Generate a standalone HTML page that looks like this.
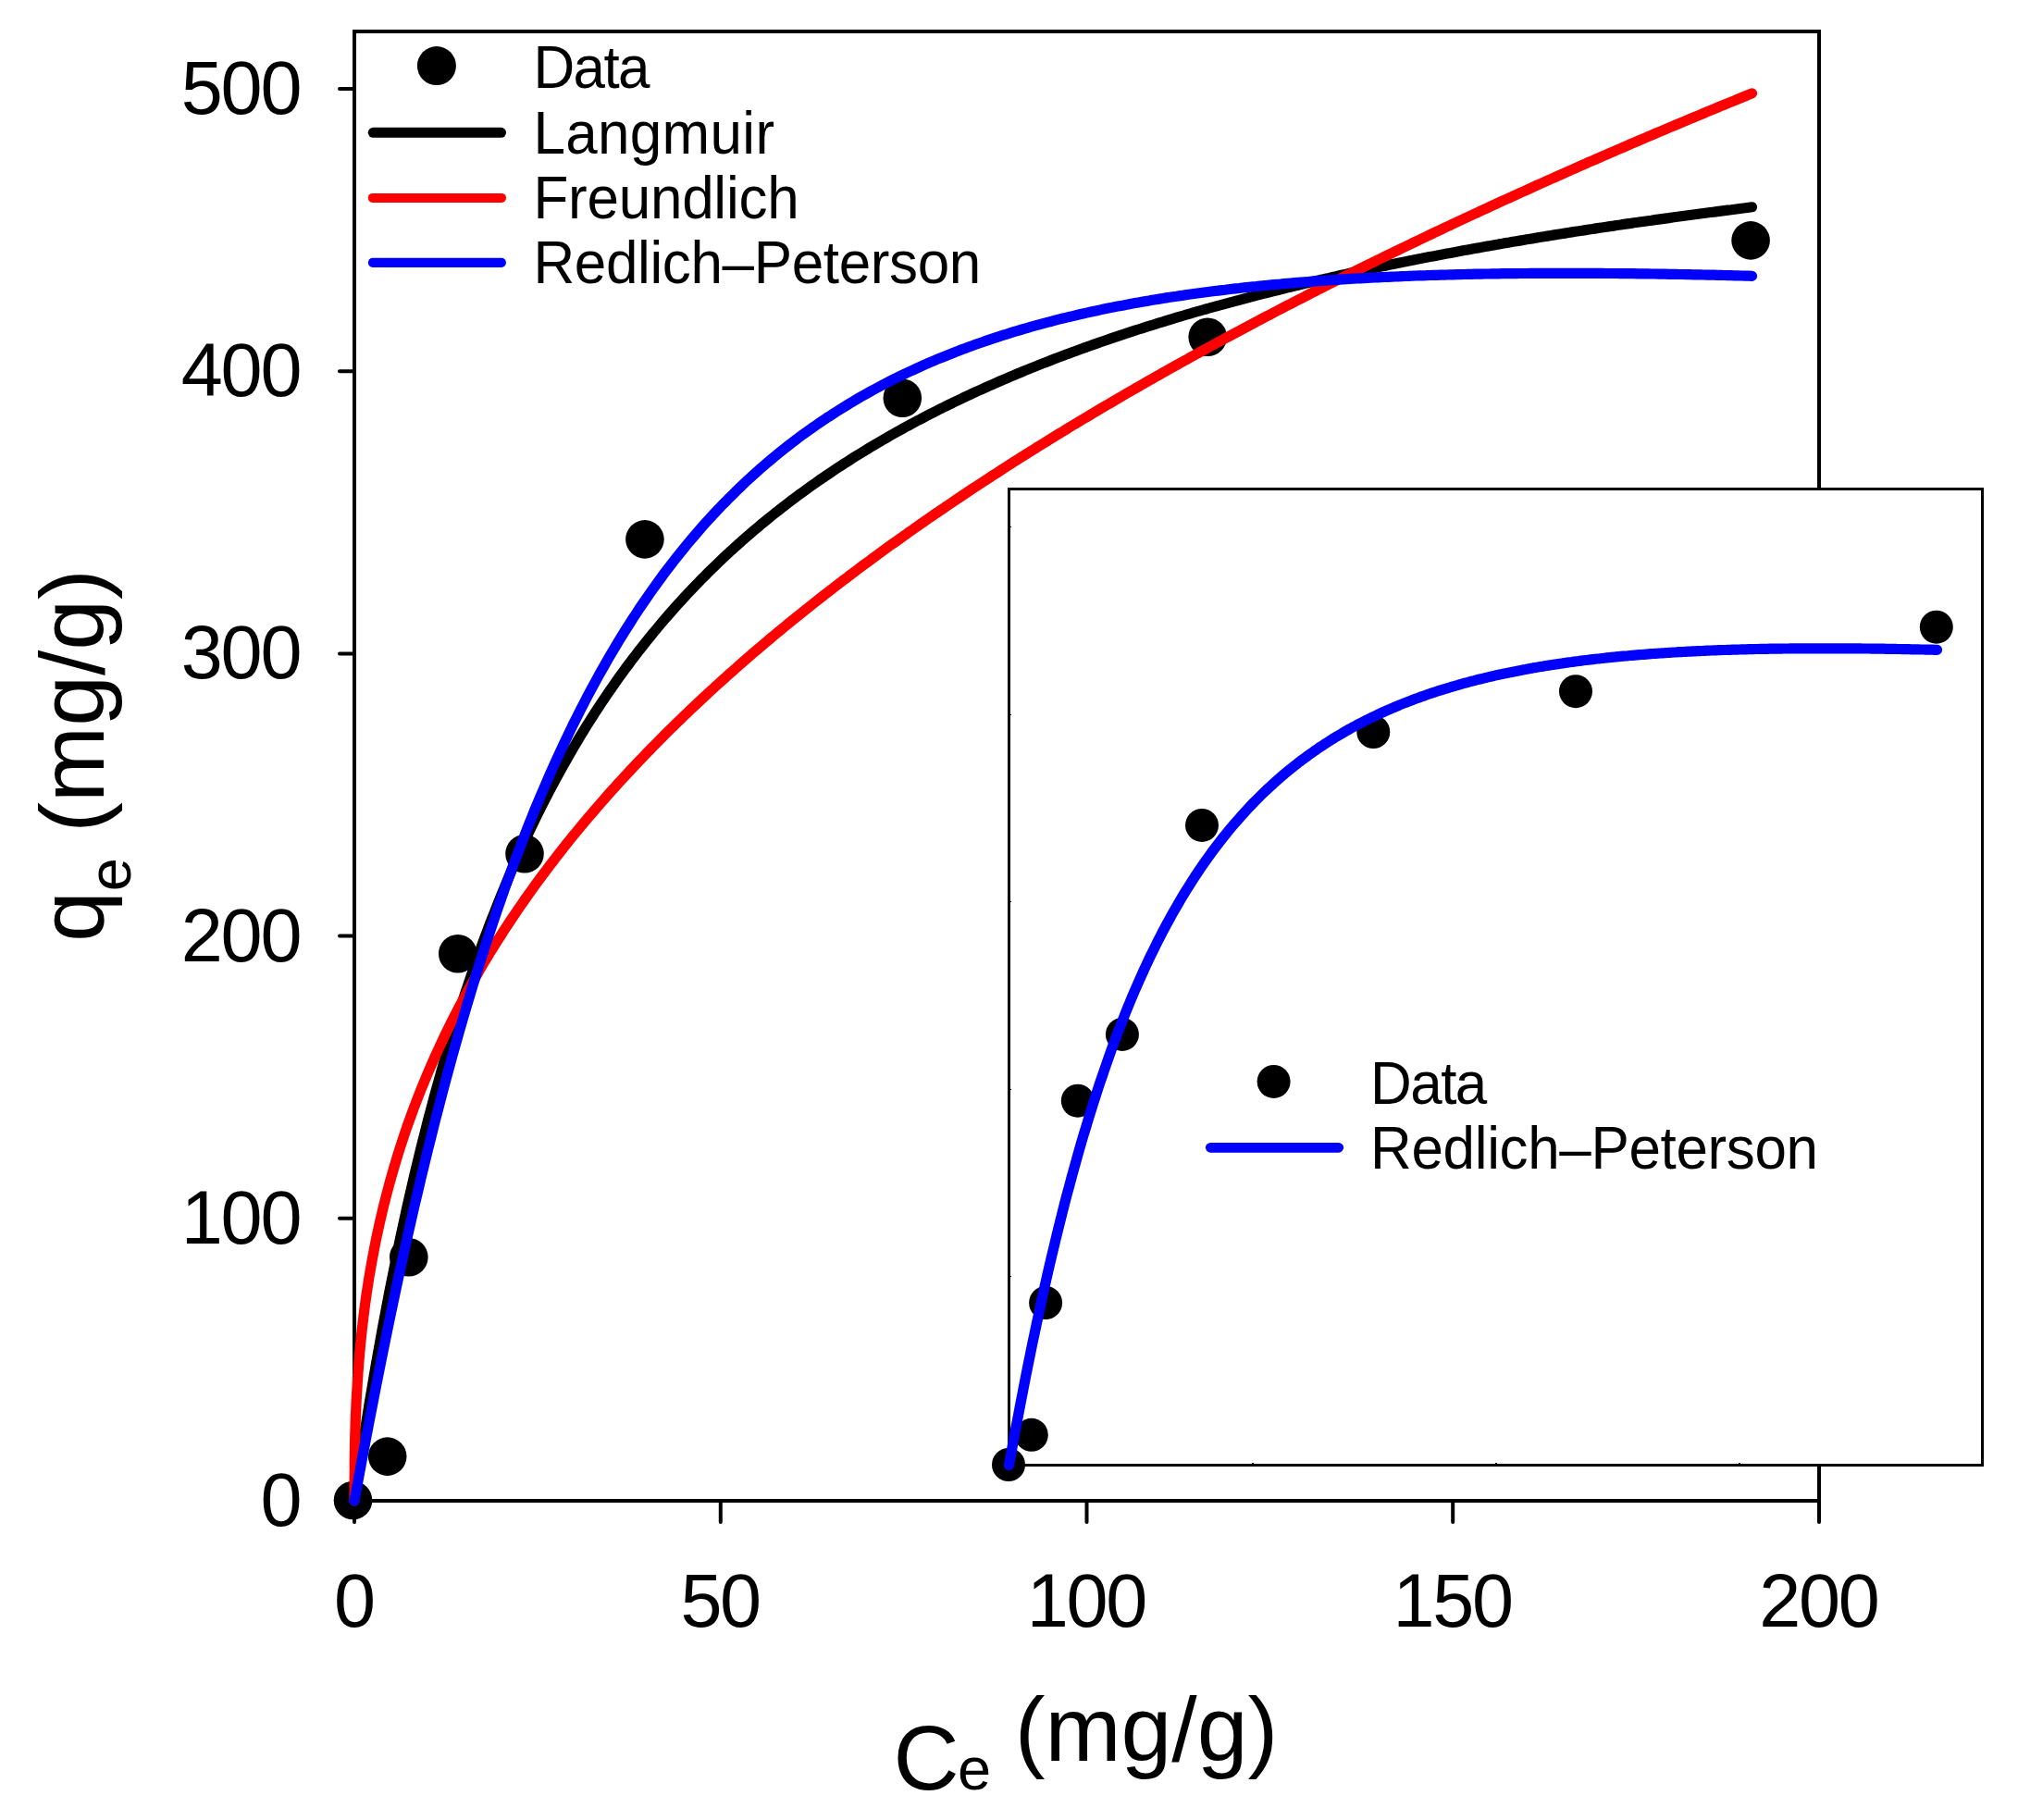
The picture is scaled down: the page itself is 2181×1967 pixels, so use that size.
<!DOCTYPE html>
<html><head><meta charset="utf-8"><title>Isotherm fit</title>
<style>
html,body{margin:0;padding:0;background:#fff;}
svg{display:block;}
text{font-family:"Liberation Sans", Arial, Helvetica, sans-serif;fill:#000;}
.tk{font-size:81px;}
.lg{font-size:62px;}
.ax{font-size:98.5px;}
.sub{font-size:65px;}
</style></head><body>
<svg width="2181" height="1967" viewBox="0 0 2181 1967">
<rect x="0" y="0" width="2181" height="1967" fill="#fff"/>

<g stroke="#000" stroke-width="4" fill="none" stroke-linecap="butt">
<path d="M383,1624 V34 H1966 V1640"/>
<path d="M381,1622 H1968"/>
<path stroke-linecap="round" d="M367,1622.0 H383"/>
<path stroke-linecap="round" d="M367,1316.8 H383"/>
<path stroke-linecap="round" d="M367,1011.6 H383"/>
<path stroke-linecap="round" d="M367,706.4 H383"/>
<path stroke-linecap="round" d="M367,401.2 H383"/>
<path stroke-linecap="round" d="M367,96.0 H383"/>
<path stroke-linecap="round" d="M383.0,1622 V1645"/>
<path stroke-linecap="round" d="M778.8,1622 V1645"/>
<path stroke-linecap="round" d="M1174.5,1622 V1645"/>
<path stroke-linecap="round" d="M1570.2,1622 V1645"/>
<path stroke-linecap="round" d="M1966.0,1622 V1645"/>
</g>
<g fill="#000">
<circle cx="381.5" cy="1621.5" r="20.8"/>
<circle cx="418.7" cy="1574.1" r="20.8"/>
<circle cx="441.8" cy="1358.8" r="20.8"/>
<circle cx="494.8" cy="1030.8" r="20.8"/>
<circle cx="567" cy="922.8" r="20.8"/>
<circle cx="696.9" cy="582.9" r="20.8"/>
<circle cx="975.3" cy="430.2" r="20.8"/>
<circle cx="1305.2" cy="364.3" r="20.8"/>
<circle cx="1892.1" cy="259.9" r="20.8"/>
</g>
<g fill="none" stroke-width="11.2" stroke-linecap="round" stroke-linejoin="round">
<path stroke="#000" d="M383.0,1622.0 L383.3,1620.1 L383.5,1618.3 L383.8,1616.4 L384.1,1614.6 L384.3,1612.7 L384.6,1610.9 L384.9,1609.1 L385.1,1607.2 L385.4,1605.4 L385.7,1603.6 L386.0,1601.8 L386.2,1600.0 L386.5,1598.2 L386.8,1596.4 L387.0,1594.6 L387.3,1592.8 L387.6,1591.0 L387.8,1589.2 L388.1,1587.4 L388.4,1585.6 L388.6,1583.8 L388.9,1582.1 L389.2,1580.3 L389.4,1578.5 L389.7,1576.8 L390.0,1575.0 L390.2,1573.3 L390.5,1571.5 L390.8,1569.8 L391.0,1568.0 L391.3,1566.3 L391.6,1564.6 L391.9,1562.8 L392.1,1561.1 L392.4,1559.4 L392.7,1557.7 L392.9,1556.0 L393.2,1554.2 L393.5,1552.5 L393.7,1550.8 L394.0,1549.1 L394.3,1547.4 L394.5,1545.8 L394.8,1544.1 L395.1,1542.4 L395.3,1540.7 L395.6,1539.0 L395.9,1537.3 L396.1,1535.7 L396.4,1534.0 L396.7,1532.4 L397.0,1530.7 L397.2,1529.0 L397.5,1527.4 L397.8,1525.7 L398.0,1524.1 L398.3,1522.5 L398.6,1520.8 L398.8,1519.2 L402.6,1496.7 L406.3,1475.0 L410.1,1453.8 L413.8,1433.3 L417.6,1413.3 L421.3,1393.8 L425.1,1375.0 L428.8,1356.6 L432.5,1338.7 L436.3,1321.2 L440.0,1304.3 L443.8,1287.7 L447.5,1271.6 L451.3,1255.9 L455.0,1240.5 L458.8,1225.6 L462.5,1211.0 L466.3,1196.7 L470.0,1182.8 L473.8,1169.2 L477.5,1155.9 L481.2,1142.9 L485.0,1130.2 L488.7,1117.8 L492.5,1105.6 L496.2,1093.7 L500.0,1082.1 L503.7,1070.7 L507.5,1059.6 L511.2,1048.7 L515.0,1038.0 L518.7,1027.5 L522.4,1017.2 L526.2,1007.2 L529.9,997.3 L533.7,987.7 L537.4,978.2 L541.2,968.9 L544.9,959.8 L548.7,950.8 L552.4,942.0 L556.2,933.4 L559.9,925.0 L563.7,916.7 L567.4,908.5 L571.1,900.5 L574.9,892.6 L578.6,884.9 L582.4,877.3 L586.1,869.8 L589.9,862.5 L593.6,855.3 L597.4,848.2 L601.1,841.2 L604.9,834.3 L608.6,827.6 L612.4,820.9 L616.1,814.4 L619.8,808.0 L623.6,801.6 L627.3,795.4 L631.1,789.3 L634.8,783.2 L638.6,777.3 L642.3,771.4 L646.1,765.7 L649.8,760.0 L653.6,754.4 L657.3,748.9 L661.1,743.5 L664.8,738.1 L668.5,732.8 L672.3,727.6 L676.0,722.5 L679.8,717.5 L683.5,712.5 L687.3,707.6 L691.0,702.7 L694.8,697.9 L698.5,693.2 L702.3,688.6 L706.0,684.0 L709.8,679.5 L713.5,675.0 L717.2,670.6 L721.0,666.3 L724.7,662.0 L728.5,657.7 L732.2,653.6 L736.0,649.4 L739.7,645.4 L743.5,641.3 L747.2,637.4 L751.0,633.4 L754.7,629.6 L758.4,625.7 L762.2,622.0 L765.9,618.2 L769.7,614.5 L773.4,610.9 L777.2,607.3 L780.9,603.7 L784.7,600.2 L788.4,596.7 L792.2,593.3 L795.9,589.9 L799.7,586.6 L803.4,583.2 L807.1,580.0 L810.9,576.7 L814.6,573.5 L818.4,570.4 L822.1,567.2 L825.9,564.1 L829.6,561.1 L833.4,558.0 L837.1,555.0 L840.9,552.1 L844.6,549.1 L848.4,546.2 L852.1,543.4 L855.8,540.5 L859.6,537.7 L863.3,534.9 L867.1,532.2 L870.8,529.5 L874.6,526.8 L878.3,524.1 L882.1,521.5 L885.8,518.8 L889.6,516.3 L893.3,513.7 L897.1,511.2 L900.8,508.7 L904.5,506.2 L908.3,503.7 L912.0,501.3 L915.8,498.9 L919.5,496.5 L923.3,494.1 L927.0,491.8 L930.8,489.5 L934.5,487.2 L938.3,484.9 L942.0,482.6 L945.8,480.4 L949.5,478.2 L953.2,476.0 L957.0,473.8 L960.7,471.7 L964.5,469.5 L968.2,467.4 L972.0,465.3 L975.7,463.3 L979.5,461.2 L983.2,459.2 L987.0,457.1 L990.7,455.1 L994.5,453.2 L998.2,451.2 L1001.9,449.3 L1005.7,447.3 L1009.4,445.4 L1013.2,443.5 L1016.9,441.6 L1020.7,439.8 L1024.4,437.9 L1028.2,436.1 L1031.9,434.3 L1035.7,432.5 L1039.4,430.7 L1043.1,428.9 L1046.9,427.2 L1050.6,425.4 L1054.4,423.7 L1058.1,422.0 L1061.9,420.3 L1065.6,418.6 L1069.4,416.9 L1073.1,415.3 L1076.9,413.6 L1080.6,412.0 L1084.4,410.4 L1088.1,408.8 L1091.8,407.2 L1095.6,405.6 L1099.3,404.0 L1103.1,402.5 L1106.8,400.9 L1110.6,399.4 L1114.3,397.9 L1118.1,396.4 L1121.8,394.9 L1125.6,393.4 L1129.3,391.9 L1133.1,390.5 L1136.8,389.0 L1140.5,387.6 L1144.3,386.1 L1148.0,384.7 L1151.8,383.3 L1155.5,381.9 L1159.3,380.5 L1163.0,379.2 L1166.8,377.8 L1170.5,376.4 L1174.3,375.1 L1178.0,373.7 L1181.8,372.4 L1185.5,371.1 L1189.2,369.8 L1193.0,368.5 L1196.7,367.2 L1200.5,365.9 L1204.2,364.7 L1208.0,363.4 L1211.7,362.1 L1215.5,360.9 L1219.2,359.7 L1223.0,358.4 L1226.7,357.2 L1230.5,356.0 L1234.2,354.8 L1237.9,353.6 L1241.7,352.4 L1245.4,351.3 L1249.2,350.1 L1252.9,348.9 L1256.7,347.8 L1260.4,346.6 L1264.2,345.5 L1267.9,344.4 L1271.7,343.2 L1275.4,342.1 L1279.1,341.0 L1282.9,339.9 L1286.6,338.8 L1290.4,337.7 L1294.1,336.7 L1297.9,335.6 L1301.6,334.5 L1305.4,333.5 L1309.1,332.4 L1312.9,331.4 L1316.6,330.3 L1320.4,329.3 L1324.1,328.3 L1327.8,327.3 L1331.6,326.3 L1335.3,325.3 L1339.1,324.3 L1342.8,323.3 L1346.6,322.3 L1350.3,321.3 L1354.1,320.3 L1357.8,319.4 L1361.6,318.4 L1365.3,317.4 L1369.1,316.5 L1372.8,315.6 L1376.5,314.6 L1380.3,313.7 L1384.0,312.8 L1387.8,311.8 L1391.5,310.9 L1395.3,310.0 L1399.0,309.1 L1402.8,308.2 L1406.5,307.3 L1410.3,306.4 L1414.0,305.5 L1417.8,304.7 L1421.5,303.8 L1425.2,302.9 L1429.0,302.1 L1432.7,301.2 L1436.5,300.4 L1440.2,299.5 L1444.0,298.7 L1447.7,297.8 L1451.5,297.0 L1455.2,296.2 L1459.0,295.3 L1462.7,294.5 L1466.5,293.7 L1470.2,292.9 L1473.9,292.1 L1477.7,291.3 L1481.4,290.5 L1485.2,289.7 L1488.9,288.9 L1492.7,288.1 L1496.4,287.4 L1500.2,286.6 L1503.9,285.8 L1507.7,285.0 L1511.4,284.3 L1515.1,283.5 L1518.9,282.8 L1522.6,282.0 L1526.4,281.3 L1530.1,280.5 L1533.9,279.8 L1537.6,279.1 L1541.4,278.3 L1545.1,277.6 L1548.9,276.9 L1552.6,276.2 L1556.4,275.5 L1560.1,274.8 L1563.8,274.1 L1567.6,273.4 L1571.3,272.7 L1575.1,272.0 L1578.8,271.3 L1582.6,270.6 L1586.3,269.9 L1590.1,269.2 L1593.8,268.5 L1597.6,267.9 L1601.3,267.2 L1605.1,266.5 L1608.8,265.9 L1612.5,265.2 L1616.3,264.6 L1620.0,263.9 L1623.8,263.3 L1627.5,262.6 L1631.3,262.0 L1635.0,261.3 L1638.8,260.7 L1642.5,260.1 L1646.3,259.4 L1650.0,258.8 L1653.8,258.2 L1657.5,257.6 L1661.2,256.9 L1665.0,256.3 L1668.7,255.7 L1672.5,255.1 L1676.2,254.5 L1680.0,253.9 L1683.7,253.3 L1687.5,252.7 L1691.2,252.1 L1695.0,251.5 L1698.7,250.9 L1702.5,250.3 L1706.2,249.8 L1709.9,249.2 L1713.7,248.6 L1717.4,248.0 L1721.2,247.5 L1724.9,246.9 L1728.7,246.3 L1732.4,245.8 L1736.2,245.2 L1739.9,244.6 L1743.7,244.1 L1747.4,243.5 L1751.2,243.0 L1754.9,242.4 L1758.6,241.9 L1762.4,241.4 L1766.1,240.8 L1769.9,240.3 L1773.6,239.7 L1777.4,239.2 L1781.1,238.7 L1784.9,238.2 L1788.6,237.6 L1792.4,237.1 L1796.1,236.6 L1799.8,236.1 L1803.6,235.6 L1807.3,235.0 L1811.1,234.5 L1814.8,234.0 L1818.6,233.5 L1822.3,233.0 L1826.1,232.5 L1829.8,232.0 L1833.6,231.5 L1837.3,231.0 L1841.1,230.5 L1844.8,230.0 L1848.5,229.5 L1852.3,229.1 L1856.0,228.6 L1859.8,228.1 L1863.5,227.6 L1867.3,227.1 L1871.0,226.7 L1874.8,226.2 L1878.5,225.7 L1882.3,225.2 L1886.0,224.8 L1889.8,224.3 L1893.5,223.8"/>
<path stroke="#f00" d="M383.0,1622.0 L383.3,1575.7 L383.5,1560.7 L383.8,1549.8 L384.1,1540.8 L384.3,1533.2 L384.6,1526.4 L384.9,1520.2 L385.1,1514.6 L385.4,1509.4 L385.7,1504.5 L386.0,1499.8 L386.2,1495.5 L386.5,1491.3 L386.8,1487.3 L387.0,1483.5 L387.3,1479.9 L387.6,1476.3 L387.8,1472.9 L388.1,1469.6 L388.4,1466.4 L388.6,1463.3 L388.9,1460.3 L389.2,1457.4 L389.4,1454.5 L389.7,1451.8 L390.0,1449.0 L390.2,1446.4 L390.5,1443.8 L390.8,1441.2 L391.0,1438.7 L391.3,1436.3 L391.6,1433.9 L391.9,1431.5 L392.1,1429.2 L392.4,1427.0 L392.7,1424.7 L392.9,1422.5 L393.2,1420.4 L393.5,1418.2 L393.7,1416.1 L394.0,1414.1 L394.3,1412.0 L394.5,1410.0 L394.8,1408.0 L395.1,1406.1 L395.3,1404.2 L395.6,1402.3 L395.9,1400.4 L396.1,1398.5 L396.4,1396.7 L396.7,1394.9 L397.0,1393.1 L397.2,1391.3 L397.5,1389.6 L397.8,1387.8 L398.0,1386.1 L398.3,1384.4 L398.6,1382.8 L398.8,1381.1 L402.6,1359.5 L406.3,1340.3 L410.1,1322.8 L413.8,1306.7 L417.6,1291.7 L421.3,1277.7 L425.1,1264.4 L428.8,1251.9 L432.5,1239.9 L436.3,1228.5 L440.0,1217.5 L443.8,1207.0 L447.5,1196.8 L451.3,1187.0 L455.0,1177.5 L458.8,1168.3 L462.5,1159.4 L466.3,1150.7 L470.0,1142.2 L473.8,1134.0 L477.5,1126.0 L481.2,1118.1 L485.0,1110.4 L488.7,1102.9 L492.5,1095.5 L496.2,1088.3 L500.0,1081.3 L503.7,1074.3 L507.5,1067.5 L511.2,1060.8 L515.0,1054.3 L518.7,1047.8 L522.4,1041.4 L526.2,1035.2 L529.9,1029.0 L533.7,1023.0 L537.4,1017.0 L541.2,1011.1 L544.9,1005.3 L548.7,999.6 L552.4,993.9 L556.2,988.3 L559.9,982.8 L563.7,977.4 L567.4,972.0 L571.1,966.7 L574.9,961.5 L578.6,956.3 L582.4,951.2 L586.1,946.1 L589.9,941.1 L593.6,936.1 L597.4,931.2 L601.1,926.4 L604.9,921.6 L608.6,916.8 L612.4,912.1 L616.1,907.4 L619.8,902.8 L623.6,898.2 L627.3,893.7 L631.1,889.2 L634.8,884.7 L638.6,880.3 L642.3,876.0 L646.1,871.6 L649.8,867.3 L653.6,863.0 L657.3,858.8 L661.1,854.6 L664.8,850.5 L668.5,846.3 L672.3,842.2 L676.0,838.2 L679.8,834.1 L683.5,830.1 L687.3,826.1 L691.0,822.2 L694.8,818.3 L698.5,814.4 L702.3,810.5 L706.0,806.7 L709.8,802.9 L713.5,799.1 L717.2,795.3 L721.0,791.6 L724.7,787.9 L728.5,784.2 L732.2,780.6 L736.0,776.9 L739.7,773.3 L743.5,769.7 L747.2,766.1 L751.0,762.6 L754.7,759.1 L758.4,755.6 L762.2,752.1 L765.9,748.6 L769.7,745.2 L773.4,741.7 L777.2,738.3 L780.9,735.0 L784.7,731.6 L788.4,728.2 L792.2,724.9 L795.9,721.6 L799.7,718.3 L803.4,715.0 L807.1,711.8 L810.9,708.5 L814.6,705.3 L818.4,702.1 L822.1,698.9 L825.9,695.7 L829.6,692.6 L833.4,689.4 L837.1,686.3 L840.9,683.2 L844.6,680.1 L848.4,677.0 L852.1,673.9 L855.8,670.9 L859.6,667.8 L863.3,664.8 L867.1,661.8 L870.8,658.8 L874.6,655.8 L878.3,652.9 L882.1,649.9 L885.8,647.0 L889.6,644.0 L893.3,641.1 L897.1,638.2 L900.8,635.3 L904.5,632.4 L908.3,629.6 L912.0,626.7 L915.8,623.9 L919.5,621.0 L923.3,618.2 L927.0,615.4 L930.8,612.6 L934.5,609.8 L938.3,607.1 L942.0,604.3 L945.8,601.5 L949.5,598.8 L953.2,596.1 L957.0,593.3 L960.7,590.6 L964.5,587.9 L968.2,585.3 L972.0,582.6 L975.7,579.9 L979.5,577.3 L983.2,574.6 L987.0,572.0 L990.7,569.3 L994.5,566.7 L998.2,564.1 L1001.9,561.5 L1005.7,558.9 L1009.4,556.3 L1013.2,553.8 L1016.9,551.2 L1020.7,548.7 L1024.4,546.1 L1028.2,543.6 L1031.9,541.0 L1035.7,538.5 L1039.4,536.0 L1043.1,533.5 L1046.9,531.0 L1050.6,528.5 L1054.4,526.1 L1058.1,523.6 L1061.9,521.1 L1065.6,518.7 L1069.4,516.2 L1073.1,513.8 L1076.9,511.4 L1080.6,509.0 L1084.4,506.5 L1088.1,504.1 L1091.8,501.7 L1095.6,499.3 L1099.3,497.0 L1103.1,494.6 L1106.8,492.2 L1110.6,489.9 L1114.3,487.5 L1118.1,485.2 L1121.8,482.8 L1125.6,480.5 L1129.3,478.2 L1133.1,475.9 L1136.8,473.5 L1140.5,471.2 L1144.3,468.9 L1148.0,466.7 L1151.8,464.4 L1155.5,462.1 L1159.3,459.8 L1163.0,457.6 L1166.8,455.3 L1170.5,453.0 L1174.3,450.8 L1178.0,448.6 L1181.8,446.3 L1185.5,444.1 L1189.2,441.9 L1193.0,439.7 L1196.7,437.5 L1200.5,435.3 L1204.2,433.1 L1208.0,430.9 L1211.7,428.7 L1215.5,426.5 L1219.2,424.3 L1223.0,422.2 L1226.7,420.0 L1230.5,417.9 L1234.2,415.7 L1237.9,413.6 L1241.7,411.4 L1245.4,409.3 L1249.2,407.2 L1252.9,405.1 L1256.7,402.9 L1260.4,400.8 L1264.2,398.7 L1267.9,396.6 L1271.7,394.5 L1275.4,392.4 L1279.1,390.4 L1282.9,388.3 L1286.6,386.2 L1290.4,384.1 L1294.1,382.1 L1297.9,380.0 L1301.6,378.0 L1305.4,375.9 L1309.1,373.9 L1312.9,371.8 L1316.6,369.8 L1320.4,367.8 L1324.1,365.7 L1327.8,363.7 L1331.6,361.7 L1335.3,359.7 L1339.1,357.7 L1342.8,355.7 L1346.6,353.7 L1350.3,351.7 L1354.1,349.7 L1357.8,347.7 L1361.6,345.8 L1365.3,343.8 L1369.1,341.8 L1372.8,339.9 L1376.5,337.9 L1380.3,335.9 L1384.0,334.0 L1387.8,332.0 L1391.5,330.1 L1395.3,328.2 L1399.0,326.2 L1402.8,324.3 L1406.5,322.4 L1410.3,320.5 L1414.0,318.5 L1417.8,316.6 L1421.5,314.7 L1425.2,312.8 L1429.0,310.9 L1432.7,309.0 L1436.5,307.1 L1440.2,305.2 L1444.0,303.3 L1447.7,301.5 L1451.5,299.6 L1455.2,297.7 L1459.0,295.9 L1462.7,294.0 L1466.5,292.1 L1470.2,290.3 L1473.9,288.4 L1477.7,286.6 L1481.4,284.7 L1485.2,282.9 L1488.9,281.0 L1492.7,279.2 L1496.4,277.4 L1500.2,275.5 L1503.9,273.7 L1507.7,271.9 L1511.4,270.1 L1515.1,268.3 L1518.9,266.5 L1522.6,264.7 L1526.4,262.9 L1530.1,261.1 L1533.9,259.3 L1537.6,257.5 L1541.4,255.7 L1545.1,253.9 L1548.9,252.1 L1552.6,250.3 L1556.4,248.6 L1560.1,246.8 L1563.8,245.0 L1567.6,243.3 L1571.3,241.5 L1575.1,239.7 L1578.8,238.0 L1582.6,236.2 L1586.3,234.5 L1590.1,232.7 L1593.8,231.0 L1597.6,229.3 L1601.3,227.5 L1605.1,225.8 L1608.8,224.1 L1612.5,222.3 L1616.3,220.6 L1620.0,218.9 L1623.8,217.2 L1627.5,215.5 L1631.3,213.8 L1635.0,212.1 L1638.8,210.4 L1642.5,208.7 L1646.3,207.0 L1650.0,205.3 L1653.8,203.6 L1657.5,201.9 L1661.2,200.2 L1665.0,198.5 L1668.7,196.8 L1672.5,195.2 L1676.2,193.5 L1680.0,191.8 L1683.7,190.1 L1687.5,188.5 L1691.2,186.8 L1695.0,185.2 L1698.7,183.5 L1702.5,181.8 L1706.2,180.2 L1709.9,178.5 L1713.7,176.9 L1717.4,175.2 L1721.2,173.6 L1724.9,172.0 L1728.7,170.3 L1732.4,168.7 L1736.2,167.1 L1739.9,165.4 L1743.7,163.8 L1747.4,162.2 L1751.2,160.6 L1754.9,159.0 L1758.6,157.4 L1762.4,155.7 L1766.1,154.1 L1769.9,152.5 L1773.6,150.9 L1777.4,149.3 L1781.1,147.7 L1784.9,146.1 L1788.6,144.5 L1792.4,142.9 L1796.1,141.4 L1799.8,139.8 L1803.6,138.2 L1807.3,136.6 L1811.1,135.0 L1814.8,133.5 L1818.6,131.9 L1822.3,130.3 L1826.1,128.7 L1829.8,127.2 L1833.6,125.6 L1837.3,124.1 L1841.1,122.5 L1844.8,120.9 L1848.5,119.4 L1852.3,117.8 L1856.0,116.3 L1859.8,114.7 L1863.5,113.2 L1867.3,111.6 L1871.0,110.1 L1874.8,108.6 L1878.5,107.0 L1882.3,105.5 L1886.0,104.0 L1889.8,102.4 L1893.5,100.9"/>
<path stroke="#00f" d="M383.0,1622.0 L383.3,1620.5 L383.5,1619.1 L383.8,1617.6 L384.1,1616.2 L384.3,1614.7 L384.6,1613.3 L384.9,1611.8 L385.1,1610.3 L385.4,1608.9 L385.7,1607.4 L386.0,1606.0 L386.2,1604.5 L386.5,1603.1 L386.8,1601.6 L387.0,1600.2 L387.3,1598.7 L387.6,1597.3 L387.8,1595.8 L388.1,1594.4 L388.4,1592.9 L388.6,1591.5 L388.9,1590.1 L389.2,1588.6 L389.4,1587.2 L389.7,1585.7 L390.0,1584.3 L390.2,1582.9 L390.5,1581.4 L390.8,1580.0 L391.0,1578.6 L391.3,1577.1 L391.6,1575.7 L391.9,1574.3 L392.1,1572.8 L392.4,1571.4 L392.7,1570.0 L392.9,1568.6 L393.2,1567.1 L393.5,1565.7 L393.7,1564.3 L394.0,1562.9 L394.3,1561.4 L394.5,1560.0 L394.8,1558.6 L395.1,1557.2 L395.3,1555.8 L395.6,1554.4 L395.9,1553.0 L396.1,1551.5 L396.4,1550.1 L396.7,1548.7 L397.0,1547.3 L397.2,1545.9 L397.5,1544.5 L397.8,1543.1 L398.0,1541.7 L398.3,1540.3 L398.6,1538.9 L398.8,1537.5 L402.6,1518.1 L406.3,1498.9 L410.1,1480.0 L413.8,1461.3 L417.6,1442.9 L421.3,1424.8 L425.1,1406.9 L428.8,1389.3 L432.5,1372.0 L436.3,1354.9 L440.0,1338.0 L443.8,1321.5 L447.5,1305.1 L451.3,1289.1 L455.0,1273.3 L458.8,1257.7 L462.5,1242.4 L466.3,1227.3 L470.0,1212.5 L473.8,1197.9 L477.5,1183.6 L481.2,1169.5 L485.0,1155.6 L488.7,1141.9 L492.5,1128.5 L496.2,1115.3 L500.0,1102.3 L503.7,1089.5 L507.5,1076.9 L511.2,1064.5 L515.0,1052.4 L518.7,1040.4 L522.4,1028.7 L526.2,1017.1 L529.9,1005.7 L533.7,994.5 L537.4,983.5 L541.2,972.7 L544.9,962.0 L548.7,951.6 L552.4,941.3 L556.2,931.1 L559.9,921.2 L563.7,911.4 L567.4,901.7 L571.1,892.2 L574.9,882.9 L578.6,873.7 L582.4,864.7 L586.1,855.9 L589.9,847.1 L593.6,838.5 L597.4,830.1 L601.1,821.8 L604.9,813.6 L608.6,805.6 L612.4,797.6 L616.1,789.9 L619.8,782.2 L623.6,774.7 L627.3,767.3 L631.1,760.0 L634.8,752.8 L638.6,745.7 L642.3,738.8 L646.1,731.9 L649.8,725.2 L653.6,718.6 L657.3,712.1 L661.1,705.6 L664.8,699.3 L668.5,693.1 L672.3,687.0 L676.0,681.0 L679.8,675.1 L683.5,669.2 L687.3,663.5 L691.0,657.8 L694.8,652.3 L698.5,646.8 L702.3,641.4 L706.0,636.1 L709.8,630.9 L713.5,625.7 L717.2,620.7 L721.0,615.7 L724.7,610.8 L728.5,605.9 L732.2,601.2 L736.0,596.5 L739.7,591.9 L743.5,587.3 L747.2,582.9 L751.0,578.5 L754.7,574.1 L758.4,569.8 L762.2,565.6 L765.9,561.5 L769.7,557.4 L773.4,553.4 L777.2,549.4 L780.9,545.5 L784.7,541.7 L788.4,537.9 L792.2,534.2 L795.9,530.5 L799.7,526.9 L803.4,523.3 L807.1,519.8 L810.9,516.3 L814.6,512.9 L818.4,509.6 L822.1,506.2 L825.9,503.0 L829.6,499.8 L833.4,496.6 L837.1,493.5 L840.9,490.4 L844.6,487.4 L848.4,484.4 L852.1,481.5 L855.8,478.6 L859.6,475.7 L863.3,472.9 L867.1,470.1 L870.8,467.4 L874.6,464.7 L878.3,462.1 L882.1,459.5 L885.8,456.9 L889.6,454.3 L893.3,451.8 L897.1,449.4 L900.8,447.0 L904.5,444.6 L908.3,442.2 L912.0,439.9 L915.8,437.6 L919.5,435.3 L923.3,433.1 L927.0,430.9 L930.8,428.7 L934.5,426.6 L938.3,424.5 L942.0,422.4 L945.8,420.4 L949.5,418.4 L953.2,416.4 L957.0,414.4 L960.7,412.5 L964.5,410.6 L968.2,408.7 L972.0,406.9 L975.7,405.1 L979.5,403.3 L983.2,401.5 L987.0,399.8 L990.7,398.1 L994.5,396.4 L998.2,394.7 L1001.9,393.0 L1005.7,391.4 L1009.4,389.8 L1013.2,388.2 L1016.9,386.7 L1020.7,385.2 L1024.4,383.7 L1028.2,382.2 L1031.9,380.7 L1035.7,379.3 L1039.4,377.8 L1043.1,376.4 L1046.9,375.0 L1050.6,373.7 L1054.4,372.3 L1058.1,371.0 L1061.9,369.7 L1065.6,368.4 L1069.4,367.1 L1073.1,365.9 L1076.9,364.6 L1080.6,363.4 L1084.4,362.2 L1088.1,361.1 L1091.8,359.9 L1095.6,358.7 L1099.3,357.6 L1103.1,356.5 L1106.8,355.4 L1110.6,354.3 L1114.3,353.2 L1118.1,352.2 L1121.8,351.2 L1125.6,350.1 L1129.3,349.1 L1133.1,348.1 L1136.8,347.2 L1140.5,346.2 L1144.3,345.2 L1148.0,344.3 L1151.8,343.4 L1155.5,342.5 L1159.3,341.6 L1163.0,340.7 L1166.8,339.8 L1170.5,339.0 L1174.3,338.1 L1178.0,337.3 L1181.8,336.5 L1185.5,335.7 L1189.2,334.9 L1193.0,334.1 L1196.7,333.3 L1200.5,332.6 L1204.2,331.8 L1208.0,331.1 L1211.7,330.4 L1215.5,329.7 L1219.2,329.0 L1223.0,328.3 L1226.7,327.6 L1230.5,326.9 L1234.2,326.2 L1237.9,325.6 L1241.7,325.0 L1245.4,324.3 L1249.2,323.7 L1252.9,323.1 L1256.7,322.5 L1260.4,321.9 L1264.2,321.3 L1267.9,320.7 L1271.7,320.2 L1275.4,319.6 L1279.1,319.1 L1282.9,318.5 L1286.6,318.0 L1290.4,317.5 L1294.1,317.0 L1297.9,316.5 L1301.6,316.0 L1305.4,315.5 L1309.1,315.0 L1312.9,314.5 L1316.6,314.1 L1320.4,313.6 L1324.1,313.2 L1327.8,312.7 L1331.6,312.3 L1335.3,311.9 L1339.1,311.5 L1342.8,311.0 L1346.6,310.6 L1350.3,310.2 L1354.1,309.8 L1357.8,309.5 L1361.6,309.1 L1365.3,308.7 L1369.1,308.4 L1372.8,308.0 L1376.5,307.6 L1380.3,307.3 L1384.0,307.0 L1387.8,306.6 L1391.5,306.3 L1395.3,306.0 L1399.0,305.7 L1402.8,305.4 L1406.5,305.1 L1410.3,304.8 L1414.0,304.5 L1417.8,304.2 L1421.5,303.9 L1425.2,303.7 L1429.0,303.4 L1432.7,303.1 L1436.5,302.9 L1440.2,302.6 L1444.0,302.4 L1447.7,302.1 L1451.5,301.9 L1455.2,301.7 L1459.0,301.4 L1462.7,301.2 L1466.5,301.0 L1470.2,300.8 L1473.9,300.6 L1477.7,300.4 L1481.4,300.2 L1485.2,300.0 L1488.9,299.8 L1492.7,299.6 L1496.4,299.5 L1500.2,299.3 L1503.9,299.1 L1507.7,299.0 L1511.4,298.8 L1515.1,298.6 L1518.9,298.5 L1522.6,298.3 L1526.4,298.2 L1530.1,298.0 L1533.9,297.9 L1537.6,297.8 L1541.4,297.7 L1545.1,297.5 L1548.9,297.4 L1552.6,297.3 L1556.4,297.2 L1560.1,297.1 L1563.8,297.0 L1567.6,296.9 L1571.3,296.8 L1575.1,296.7 L1578.8,296.6 L1582.6,296.5 L1586.3,296.4 L1590.1,296.3 L1593.8,296.2 L1597.6,296.2 L1601.3,296.1 L1605.1,296.0 L1608.8,296.0 L1612.5,295.9 L1616.3,295.9 L1620.0,295.8 L1623.8,295.7 L1627.5,295.7 L1631.3,295.6 L1635.0,295.6 L1638.8,295.6 L1642.5,295.5 L1646.3,295.5 L1650.0,295.5 L1653.8,295.4 L1657.5,295.4 L1661.2,295.4 L1665.0,295.4 L1668.7,295.3 L1672.5,295.3 L1676.2,295.3 L1680.0,295.3 L1683.7,295.3 L1687.5,295.3 L1691.2,295.3 L1695.0,295.3 L1698.7,295.3 L1702.5,295.3 L1706.2,295.3 L1709.9,295.3 L1713.7,295.3 L1717.4,295.3 L1721.2,295.4 L1724.9,295.4 L1728.7,295.4 L1732.4,295.4 L1736.2,295.5 L1739.9,295.5 L1743.7,295.5 L1747.4,295.5 L1751.2,295.6 L1754.9,295.6 L1758.6,295.7 L1762.4,295.7 L1766.1,295.7 L1769.9,295.8 L1773.6,295.8 L1777.4,295.9 L1781.1,295.9 L1784.9,296.0 L1788.6,296.0 L1792.4,296.1 L1796.1,296.2 L1799.8,296.2 L1803.6,296.3 L1807.3,296.3 L1811.1,296.4 L1814.8,296.5 L1818.6,296.5 L1822.3,296.6 L1826.1,296.7 L1829.8,296.8 L1833.6,296.8 L1837.3,296.9 L1841.1,297.0 L1844.8,297.1 L1848.5,297.2 L1852.3,297.2 L1856.0,297.3 L1859.8,297.4 L1863.5,297.5 L1867.3,297.6 L1871.0,297.7 L1874.8,297.8 L1878.5,297.9 L1882.3,298.0 L1886.0,298.1 L1889.8,298.2 L1893.5,298.3"/>
</g>
<circle cx="471.9" cy="71.1" r="21" fill="#000"/>
<g fill="none" stroke-linecap="round">
<path stroke="#000" stroke-width="10.9" d="M403.2,143.3 H541.6"/>
<path stroke="#f00" stroke-width="10" d="M402.8,213.9 H542"/>
<path stroke="#00f" stroke-width="10.2" d="M402.9,283.8 H541.9"/>
</g>
<text class="lg" transform="translate(576.4,95) scale(1,1.055)" textLength="126.2" lengthAdjust="spacing">Data</text>
<text class="lg" transform="translate(576.4,166) scale(1,1.055)" textLength="260.7" lengthAdjust="spacing">Langmuir</text>
<text class="lg" transform="translate(576.4,236) scale(1,1.055)" textLength="287.3" lengthAdjust="spacing">Freundlich</text>
<text class="lg" transform="translate(576.4,306) scale(1,1.055)" textLength="483.9" lengthAdjust="spacing">Redlich–Peterson</text>
<text class="tk" x="326.5" y="1649.0" text-anchor="end">0</text>
<text class="tk" x="326.5" y="1343.8" text-anchor="end" textLength="130.7" lengthAdjust="spacing">100</text>
<text class="tk" x="326.5" y="1038.6" text-anchor="end" textLength="130.7" lengthAdjust="spacing">200</text>
<text class="tk" x="326.5" y="733.4" text-anchor="end" textLength="130.7" lengthAdjust="spacing">300</text>
<text class="tk" x="326.5" y="428.2" text-anchor="end" textLength="130.7" lengthAdjust="spacing">400</text>
<text class="tk" x="326.5" y="123.0" text-anchor="end" textLength="130.7" lengthAdjust="spacing">500</text>
<text class="tk" x="383.5" y="1757.5" text-anchor="middle">0</text>
<text class="tk" x="779.2" y="1757.5" text-anchor="middle" textLength="87.6" lengthAdjust="spacing">50</text>
<text class="tk" x="1175.0" y="1757.5" text-anchor="middle" textLength="130.7" lengthAdjust="spacing">100</text>
<text class="tk" x="1570.8" y="1757.5" text-anchor="middle" textLength="130.7" lengthAdjust="spacing">150</text>
<text class="tk" x="1966.5" y="1757.5" text-anchor="middle" textLength="130.7" lengthAdjust="spacing">200</text>
<text class="ax" x="965.4" y="1934">C</text>
<text class="sub" x="1035" y="1934">e</text>
<text class="ax" x="1096.7" y="1903">(mg/g)</text>
<text transform="translate(111.5,1018) rotate(-90)"><tspan class="ax">q</tspan><tspan class="sub" dy="29">e</tspan><tspan class="ax" dy="-29"> (mg/g)</tspan></text>
<rect x="1090.5" y="528.5" width="1052" height="1055" fill="#fff" stroke="#000" stroke-width="3"/>
<g fill="#000" shape-rendering="crispEdges">
<rect x="1092" y="569" width="1" height="1"/>
<rect x="1092" y="772" width="1" height="1"/>
<rect x="1092" y="974" width="1" height="1"/>
<rect x="1092" y="1177" width="1" height="1"/>
<rect x="1092" y="1379" width="1" height="1"/>
<rect x="1353" y="1581" width="2" height="1"/>
<rect x="1616" y="1581" width="2" height="1"/>
<rect x="1879" y="1581" width="2" height="1"/>
</g>
<g fill="#000">
<circle cx="1090" cy="1583" r="18"/>
<circle cx="1114.8" cy="1550.8" r="18"/>
<circle cx="1130.1" cy="1408" r="18"/>
<circle cx="1164.8" cy="1189.7" r="18"/>
<circle cx="1212.9" cy="1117.9" r="18"/>
<circle cx="1299" cy="891.9" r="18"/>
<circle cx="1484.3" cy="791" r="18"/>
<circle cx="1703" cy="747.2" r="18"/>
<circle cx="2092.8" cy="677.7" r="18"/>
</g>
<path fill="none" stroke="#00f" stroke-width="11.2" stroke-linecap="round" stroke-linejoin="round" d="M1090.5,1583.5 L1093.0,1569.7 L1095.5,1556.1 L1098.0,1542.6 L1100.6,1529.3 L1103.1,1516.1 L1105.6,1503.2 L1108.1,1490.3 L1110.6,1477.7 L1113.1,1465.3 L1115.6,1453.0 L1118.2,1440.9 L1120.7,1429.0 L1123.2,1417.3 L1125.7,1405.7 L1128.2,1394.4 L1130.7,1383.2 L1133.2,1372.2 L1135.7,1361.4 L1138.3,1350.7 L1140.8,1340.2 L1143.3,1329.9 L1145.8,1319.8 L1148.3,1309.8 L1150.8,1300.0 L1153.3,1290.4 L1155.9,1280.9 L1158.4,1271.5 L1160.9,1262.4 L1163.4,1253.4 L1165.9,1244.5 L1168.4,1235.8 L1170.9,1227.2 L1173.5,1218.8 L1176.0,1210.5 L1178.5,1202.3 L1181.0,1194.3 L1183.5,1186.5 L1186.0,1178.7 L1188.5,1171.1 L1191.1,1163.6 L1193.6,1156.3 L1196.1,1149.0 L1198.6,1141.9 L1201.1,1134.9 L1203.6,1128.0 L1206.1,1121.3 L1208.6,1114.6 L1211.2,1108.1 L1213.7,1101.7 L1216.2,1095.3 L1218.7,1089.1 L1221.2,1083.0 L1223.7,1077.0 L1226.2,1071.1 L1228.8,1065.3 L1231.3,1059.6 L1233.8,1053.9 L1236.3,1048.4 L1238.8,1043.0 L1241.3,1037.6 L1243.8,1032.4 L1246.4,1027.2 L1248.9,1022.1 L1251.4,1017.1 L1253.9,1012.2 L1256.4,1007.3 L1258.9,1002.6 L1261.4,997.9 L1264.0,993.3 L1266.5,988.7 L1269.0,984.3 L1271.5,979.9 L1274.0,975.6 L1276.5,971.3 L1279.0,967.1 L1281.5,963.0 L1284.1,959.0 L1286.6,955.0 L1289.1,951.0 L1291.6,947.2 L1294.1,943.4 L1296.6,939.6 L1299.1,936.0 L1301.7,932.3 L1304.2,928.8 L1306.7,925.3 L1309.2,921.8 L1311.7,918.4 L1314.2,915.1 L1316.7,911.8 L1319.3,908.5 L1321.8,905.3 L1324.3,902.2 L1326.8,899.1 L1329.3,896.0 L1331.8,893.0 L1334.3,890.1 L1336.9,887.2 L1339.4,884.3 L1341.9,881.5 L1344.4,878.7 L1346.9,876.0 L1349.4,873.3 L1351.9,870.6 L1354.4,868.0 L1357.0,865.4 L1359.5,862.9 L1362.0,860.4 L1364.5,857.9 L1367.0,855.5 L1369.5,853.1 L1372.0,850.8 L1374.6,848.5 L1377.1,846.2 L1379.6,843.9 L1382.1,841.7 L1384.6,839.5 L1387.1,837.4 L1389.6,835.3 L1392.2,833.2 L1394.7,831.1 L1397.2,829.1 L1399.7,827.1 L1402.2,825.2 L1404.7,823.2 L1407.2,821.3 L1409.8,819.4 L1412.3,817.6 L1414.8,815.8 L1417.3,814.0 L1419.8,812.2 L1422.3,810.5 L1424.8,808.7 L1427.3,807.0 L1429.9,805.4 L1432.4,803.7 L1434.9,802.1 L1437.4,800.5 L1439.9,798.9 L1442.4,797.4 L1444.9,795.8 L1447.5,794.3 L1450.0,792.9 L1452.5,791.4 L1455.0,789.9 L1457.5,788.5 L1460.0,787.1 L1462.5,785.7 L1465.1,784.4 L1467.6,783.0 L1470.1,781.7 L1472.6,780.4 L1475.1,779.1 L1477.6,777.9 L1480.1,776.6 L1482.7,775.4 L1485.2,774.2 L1487.7,773.0 L1490.2,771.8 L1492.7,770.6 L1495.2,769.5 L1497.7,768.4 L1500.2,767.2 L1502.8,766.2 L1505.3,765.1 L1507.8,764.0 L1510.3,763.0 L1512.8,761.9 L1515.3,760.9 L1517.8,759.9 L1520.4,758.9 L1522.9,757.9 L1525.4,757.0 L1527.9,756.0 L1530.4,755.1 L1532.9,754.2 L1535.4,753.2 L1538.0,752.4 L1540.5,751.5 L1543.0,750.6 L1545.5,749.7 L1548.0,748.9 L1550.5,748.1 L1553.0,747.2 L1555.6,746.4 L1558.1,745.6 L1560.6,744.8 L1563.1,744.1 L1565.6,743.3 L1568.1,742.5 L1570.6,741.8 L1573.1,741.1 L1575.7,740.4 L1578.2,739.6 L1580.7,738.9 L1583.2,738.2 L1585.7,737.6 L1588.2,736.9 L1590.7,736.2 L1593.3,735.6 L1595.8,734.9 L1598.3,734.3 L1600.8,733.7 L1603.3,733.1 L1605.8,732.5 L1608.3,731.9 L1610.9,731.3 L1613.4,730.7 L1615.9,730.1 L1618.4,729.6 L1620.9,729.0 L1623.4,728.5 L1625.9,727.9 L1628.4,727.4 L1631.0,726.9 L1633.5,726.4 L1636.0,725.9 L1638.5,725.4 L1641.0,724.9 L1643.5,724.4 L1646.0,723.9 L1648.6,723.5 L1651.1,723.0 L1653.6,722.5 L1656.1,722.1 L1658.6,721.6 L1661.1,721.2 L1663.6,720.8 L1666.2,720.4 L1668.7,719.9 L1671.2,719.5 L1673.7,719.1 L1676.2,718.7 L1678.7,718.4 L1681.2,718.0 L1683.8,717.6 L1686.3,717.2 L1688.8,716.9 L1691.3,716.5 L1693.8,716.1 L1696.3,715.8 L1698.8,715.5 L1701.3,715.1 L1703.9,714.8 L1706.4,714.5 L1708.9,714.1 L1711.4,713.8 L1713.9,713.5 L1716.4,713.2 L1718.9,712.9 L1721.5,712.6 L1724.0,712.3 L1726.5,712.0 L1729.0,711.8 L1731.5,711.5 L1734.0,711.2 L1736.5,710.9 L1739.1,710.7 L1741.6,710.4 L1744.1,710.2 L1746.6,709.9 L1749.1,709.7 L1751.6,709.4 L1754.1,709.2 L1756.7,709.0 L1759.2,708.8 L1761.7,708.5 L1764.2,708.3 L1766.7,708.1 L1769.2,707.9 L1771.7,707.7 L1774.2,707.5 L1776.8,707.3 L1779.3,707.1 L1781.8,706.9 L1784.3,706.7 L1786.8,706.5 L1789.3,706.3 L1791.8,706.2 L1794.4,706.0 L1796.9,705.8 L1799.4,705.7 L1801.9,705.5 L1804.4,705.3 L1806.9,705.2 L1809.4,705.0 L1812.0,704.9 L1814.5,704.7 L1817.0,704.6 L1819.5,704.5 L1822.0,704.3 L1824.5,704.2 L1827.0,704.1 L1829.6,703.9 L1832.1,703.8 L1834.6,703.7 L1837.1,703.6 L1839.6,703.5 L1842.1,703.3 L1844.6,703.2 L1847.1,703.1 L1849.7,703.0 L1852.2,702.9 L1854.7,702.8 L1857.2,702.7 L1859.7,702.6 L1862.2,702.5 L1864.7,702.5 L1867.3,702.4 L1869.8,702.3 L1872.3,702.2 L1874.8,702.1 L1877.3,702.1 L1879.8,702.0 L1882.3,701.9 L1884.9,701.8 L1887.4,701.8 L1889.9,701.7 L1892.4,701.7 L1894.9,701.6 L1897.4,701.5 L1899.9,701.5 L1902.5,701.4 L1905.0,701.4 L1907.5,701.3 L1910.0,701.3 L1912.5,701.2 L1915.0,701.2 L1917.5,701.2 L1920.0,701.1 L1922.6,701.1 L1925.1,701.1 L1927.6,701.0 L1930.1,701.0 L1932.6,701.0 L1935.1,700.9 L1937.6,700.9 L1940.2,700.9 L1942.7,700.9 L1945.2,700.9 L1947.7,700.8 L1950.2,700.8 L1952.7,700.8 L1955.2,700.8 L1957.8,700.8 L1960.3,700.8 L1962.8,700.8 L1965.3,700.8 L1967.8,700.8 L1970.3,700.8 L1972.8,700.8 L1975.4,700.8 L1977.9,700.8 L1980.4,700.8 L1982.9,700.8 L1985.4,700.8 L1987.9,700.8 L1990.4,700.8 L1992.9,700.8 L1995.5,700.8 L1998.0,700.8 L2000.5,700.9 L2003.0,700.9 L2005.5,700.9 L2008.0,700.9 L2010.5,700.9 L2013.1,701.0 L2015.6,701.0 L2018.1,701.0 L2020.6,701.0 L2023.1,701.1 L2025.6,701.1 L2028.1,701.1 L2030.7,701.2 L2033.2,701.2 L2035.7,701.2 L2038.2,701.3 L2040.7,701.3 L2043.2,701.4 L2045.7,701.4 L2048.3,701.4 L2050.8,701.5 L2053.3,701.5 L2055.8,701.6 L2058.3,701.6 L2060.8,701.7 L2063.3,701.7 L2065.8,701.8 L2068.4,701.8 L2070.9,701.9 L2073.4,701.9 L2075.9,702.0 L2078.4,702.0 L2080.9,702.1 L2083.4,702.1 L2086.0,702.2 L2088.5,702.2 L2091.0,702.3 L2093.5,702.4"/>
<circle cx="1376.6" cy="1168.9" r="18" fill="#000"/>
<path fill="none" stroke="#00f" stroke-width="10.8" stroke-linecap="round" d="M1308.3,1240.3 H1446.7"/>
<text class="lg" transform="translate(1481.1,1192.7) scale(1,1.055)" textLength="126.2" lengthAdjust="spacing">Data</text>
<text class="lg" transform="translate(1481.1,1262.7) scale(1,1.055)" textLength="483.9" lengthAdjust="spacing">Redlich–Peterson</text>
</svg></body></html>
